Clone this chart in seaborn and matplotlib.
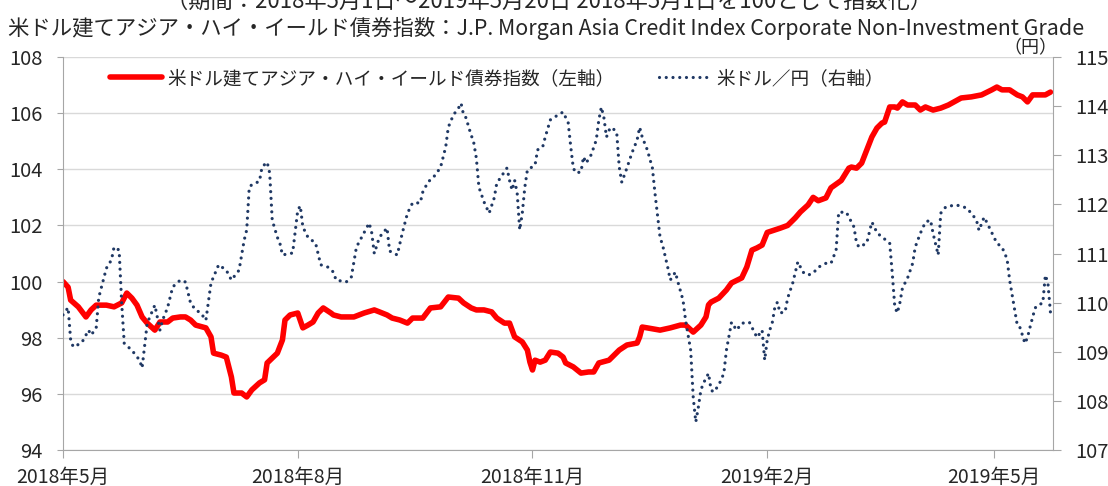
import pandas as pd
import matplotlib.pyplot as plt
import seaborn as sns

# === Data ===
hy_dates = [
    "2018-05-01", "2018-05-03", "2018-05-04", "2018-05-07", "2018-05-10", "2018-05-12", "2018-05-14",
    "2018-05-18", "2018-05-21", "2018-05-24", "2018-05-26", "2018-05-28", "2018-05-30", "2018-06-01",
    "2018-06-03", "2018-06-06", "2018-06-08", "2018-06-11", "2018-06-13", "2018-06-16", "2018-06-18",
    "2018-06-20", "2018-06-22", "2018-06-26", "2018-06-28", "2018-06-29", "2018-07-02", "2018-07-04",
    "2018-07-06", "2018-07-07", "2018-07-10", "2018-07-12", "2018-07-14", "2018-07-17", "2018-07-19",
    "2018-07-20", "2018-07-24", "2018-07-26", "2018-07-27", "2018-07-29", "2018-08-01", "2018-08-03",
    "2018-08-05", "2018-08-07", "2018-08-09", "2018-08-11", "2018-08-14", "2018-08-15", "2018-08-18",
    "2018-08-23", "2018-08-27", "2018-08-31", "2018-09-02", "2018-09-05", "2018-09-07", "2018-09-10",
    "2018-09-13", "2018-09-15", "2018-09-19", "2018-09-22", "2018-09-26", "2018-09-29", "2018-10-03",
    "2018-10-05", "2018-10-08", "2018-10-10", "2018-10-13", "2018-10-16", "2018-10-18", "2018-10-21",
    "2018-10-23", "2018-10-25", "2018-10-28", "2018-10-30", "2018-10-31", "2018-11-01", "2018-11-02",
    "2018-11-04", "2018-11-06", "2018-11-08", "2018-11-11", "2018-11-13", "2018-11-14", "2018-11-17",
    "2018-11-20", "2018-11-23", "2018-11-25", "2018-11-27", "2018-12-01", "2018-12-05", "2018-12-08",
    "2018-12-12", "2018-12-13", "2018-12-14", "2018-12-16", "2018-12-21", "2018-12-25", "2018-12-29",
    "2018-12-31", "2019-01-03", "2019-01-06", "2019-01-08", "2019-01-09", "2019-01-10", "2019-01-13",
    "2019-01-16", "2019-01-18", "2019-01-22", "2019-01-24", "2019-01-26", "2019-01-28", "2019-01-30",
    "2019-02-01", "2019-02-04", "2019-02-06", "2019-02-09", "2019-02-12", "2019-02-14", "2019-02-17",
    "2019-02-19", "2019-02-21", "2019-02-24", "2019-02-26", "2019-03-02", "2019-03-05", "2019-03-06",
    "2019-03-08", "2019-03-10", "2019-03-12", "2019-03-14", "2019-03-16", "2019-03-18", "2019-03-19",
    "2019-03-21", "2019-03-23", "2019-03-24", "2019-03-26", "2019-03-28", "2019-03-31", "2019-04-02",
    "2019-04-04", "2019-04-07", "2019-04-10", "2019-04-13", "2019-04-18", "2019-04-22", "2019-04-26",
    "2019-04-30", "2019-05-02", "2019-05-04", "2019-05-07", "2019-05-10", "2019-05-12", "2019-05-14",
    "2019-05-16", "2019-05-18", "2019-05-21", "2019-05-23",
]
hy_index = [
    100.0, 99.8, 99.34, 99.1, 98.74, 98.99, 99.16,
    99.16, 99.1, 99.24, 99.59, 99.41, 99.16, 98.74,
    98.52, 98.27, 98.56, 98.56, 98.7, 98.74, 98.74,
    98.63, 98.45, 98.35, 98.03, 97.45, 97.38, 97.31,
    96.6, 96.03, 96.03, 95.89, 96.14, 96.39, 96.5,
    97.1, 97.45, 97.92, 98.63, 98.81, 98.88, 98.35,
    98.45, 98.56, 98.88, 99.06, 98.88, 98.81, 98.74,
    98.74, 98.88, 98.99, 98.92, 98.81, 98.7, 98.63,
    98.52, 98.7, 98.7, 99.06, 99.1, 99.45, 99.41,
    99.24, 99.06, 98.99, 98.99, 98.92, 98.7, 98.52,
    98.52, 98.03, 97.85, 97.56, 97.13, 96.85, 97.2,
    97.13, 97.2, 97.49, 97.45, 97.31, 97.1, 96.96,
    96.74, 96.78, 96.78, 97.1, 97.2, 97.56, 97.74,
    97.81, 98.03, 98.38, 98.35, 98.27, 98.35, 98.45,
    98.45, 98.2, 98.45, 98.74, 99.17, 99.27, 99.41,
    99.7, 99.95, 100.13, 100.52, 101.12, 101.2, 101.3,
    101.75, 101.84, 101.9, 102.0, 102.27, 102.48, 102.73,
    103.0, 102.88, 102.98, 103.34, 103.6, 104.04, 104.08,
    104.04, 104.22, 104.69, 105.15, 105.47, 105.65, 105.68,
    106.22, 106.22, 106.18, 106.4, 106.29, 106.29, 106.11,
    106.22, 106.11, 106.18, 106.29, 106.54, 106.58, 106.65,
    106.83, 106.93, 106.83, 106.83, 106.65, 106.58, 106.4,
    106.65, 106.65, 106.65, 106.75,
]

yen_dates = [
    "2018-05-01", "2018-05-03", "2018-05-04", "2018-05-05", "2018-05-08", "2018-05-09", "2018-05-11",
    "2018-05-12", "2018-05-14", "2018-05-15", "2018-05-18", "2018-05-20", "2018-05-21", "2018-05-23",
    "2018-05-24", "2018-05-25", "2018-05-28", "2018-05-31", "2018-06-01", "2018-06-03", "2018-06-06",
    "2018-06-08", "2018-06-09", "2018-06-11", "2018-06-13", "2018-06-16", "2018-06-18", "2018-06-20",
    "2018-06-22", "2018-06-24", "2018-06-26", "2018-06-28", "2018-07-01", "2018-07-04", "2018-07-06",
    "2018-07-09", "2018-07-11", "2018-07-12", "2018-07-13", "2018-07-14", "2018-07-17", "2018-07-18",
    "2018-07-20", "2018-07-21", "2018-07-22", "2018-07-24", "2018-07-25", "2018-07-26", "2018-07-30",
    "2018-08-01", "2018-08-02", "2018-08-03", "2018-08-05", "2018-08-08", "2018-08-10", "2018-08-13",
    "2018-08-15", "2018-08-16", "2018-08-20", "2018-08-22", "2018-08-24", "2018-08-29", "2018-08-30",
    "2018-08-31", "2018-09-02", "2018-09-05", "2018-09-06", "2018-09-09", "2018-09-11", "2018-09-13",
    "2018-09-15", "2018-09-18", "2018-09-19", "2018-09-21", "2018-09-24", "2018-09-26", "2018-09-28",
    "2018-09-29", "2018-10-01", "2018-10-03", "2018-10-04", "2018-10-05", "2018-10-06", "2018-10-07",
    "2018-10-09", "2018-10-10", "2018-10-11", "2018-10-13", "2018-10-15", "2018-10-17", "2018-10-18",
    "2018-10-22", "2018-10-23", "2018-10-24", "2018-10-25", "2018-10-26", "2018-10-27", "2018-10-28",
    "2018-10-29", "2018-10-30", "2018-11-02", "2018-11-03", "2018-11-05", "2018-11-06", "2018-11-08",
    "2018-11-11", "2018-11-13", "2018-11-15", "2018-11-16", "2018-11-17", "2018-11-18", "2018-11-20",
    "2018-11-21", "2018-11-22", "2018-11-24", "2018-11-26", "2018-11-27", "2018-11-28", "2018-11-29",
    "2018-11-30", "2018-12-01", "2018-12-02", "2018-12-04", "2018-12-05", "2018-12-06", "2018-12-08",
    "2018-12-10", "2018-12-12", "2018-12-13", "2018-12-14", "2018-12-16", "2018-12-18", "2018-12-19",
    "2018-12-21", "2018-12-22", "2018-12-24", "2018-12-25", "2018-12-27", "2018-12-28", "2018-12-30",
    "2018-12-31", "2019-01-02", "2019-01-03", "2019-01-04", "2019-01-05", "2019-01-06", "2019-01-07",
    "2019-01-09", "2019-01-10", "2019-01-11", "2019-01-13", "2019-01-15", "2019-01-16", "2019-01-18",
    "2019-01-20", "2019-01-22", "2019-01-25", "2019-01-28", "2019-01-30", "2019-01-31", "2019-02-01",
    "2019-02-02", "2019-02-03", "2019-02-04", "2019-02-05", "2019-02-06", "2019-02-08", "2019-02-09",
    "2019-02-11", "2019-02-13", "2019-02-15", "2019-02-17", "2019-02-19", "2019-02-21", "2019-02-24",
    "2019-02-26", "2019-02-28", "2019-03-01", "2019-03-04", "2019-03-05", "2019-03-07", "2019-03-08",
    "2019-03-09", "2019-03-12", "2019-03-14", "2019-03-15", "2019-03-16", "2019-03-21", "2019-03-22",
    "2019-03-23", "2019-03-24", "2019-03-25", "2019-03-26", "2019-03-28", "2019-03-30", "2019-03-31",
    "2019-04-02", "2019-04-04", "2019-04-06", "2019-04-07", "2019-04-09", "2019-04-10", "2019-04-12",
    "2019-04-16", "2019-04-20", "2019-04-22", "2019-04-24", "2019-04-25", "2019-04-27", "2019-04-28",
    "2019-05-02", "2019-05-04", "2019-05-06", "2019-05-07", "2019-05-08", "2019-05-09", "2019-05-10",
    "2019-05-11", "2019-05-12", "2019-05-13", "2019-05-14", "2019-05-15", "2019-05-16", "2019-05-17",
    "2019-05-18", "2019-05-20", "2019-05-21", "2019-05-22", "2019-05-23",
]
usd_jpy = [
    109.75, 109.9, 109.24, 109.1, 109.17, 109.24, 109.44,
    109.34, 109.48, 110.1, 110.7, 110.87, 111.13, 111.07,
    109.99, 109.17, 109.03, 108.83, 108.67, 109.58, 109.95,
    109.44, 109.64, 109.9, 110.32, 110.46, 110.42, 109.99,
    109.85, 109.79, 109.64, 110.4, 110.77, 110.66, 110.46,
    110.66, 111.27, 111.48, 112.35, 112.4, 112.47, 112.76,
    112.86, 112.64, 111.68, 111.33, 111.21, 110.97, 111.01,
    111.88, 111.97, 111.54, 111.33, 111.21, 110.77, 110.72,
    110.62, 110.46, 110.42, 110.52, 111.13, 111.62, 111.42,
    111.0, 111.33, 111.52, 111.05, 110.97, 111.42, 111.82,
    112.03, 112.03, 112.25, 112.45, 112.6, 112.76, 113.17,
    113.57, 113.82, 113.96, 114.06, 113.82, 113.76, 113.57,
    113.25, 112.94, 112.35, 112.05, 111.82, 112.13, 112.43,
    112.74, 112.49, 112.29, 112.49, 112.23, 111.48, 111.82,
    112.35, 112.7, 112.8, 113.11, 113.17, 113.37, 113.72,
    113.82, 113.88, 113.66, 113.17, 112.74, 112.64, 112.66,
    112.97, 112.84, 113.01, 113.31, 113.72, 113.98, 113.76,
    113.37, 113.51, 113.57, 113.47, 112.76, 112.45, 112.74,
    113.05, 113.31, 113.57, 113.37, 113.11, 112.74, 112.23,
    111.33, 111.17, 110.72, 110.46, 110.62, 110.42, 110.05,
    109.64, 109.03, 108.07, 107.57, 107.87, 108.22, 108.36,
    108.56, 108.22, 108.18, 108.32, 108.56, 109.03, 109.6,
    109.44, 109.58, 109.6, 109.29, 109.44, 108.83, 109.24,
    109.44, 109.6, 109.91, 110.01, 109.79, 109.81, 110.09,
    110.4, 110.83, 110.62, 110.56, 110.6, 110.72, 110.8,
    110.8, 111.07, 111.84, 111.84, 111.74, 111.54, 111.21,
    111.13, 111.21, 111.64, 111.54, 111.42, 111.21, 110.6,
    109.91, 109.79, 110.0, 110.3, 110.5, 110.8, 111.13,
    111.41, 111.64, 111.68, 111.41, 110.97, 111.82, 111.95,
    111.99, 111.93, 111.82, 111.68, 111.47, 111.74, 111.64,
    111.21, 111.13, 110.89, 110.46, 110.15, 109.85, 109.54,
    109.5, 109.34, 109.17, 109.29, 109.5, 109.7, 109.89,
    109.95, 109.99, 110.56, 110.4, 109.8,
]

month_ticks = ["2018-05-01", "2018-08-01", "2018-11-01", "2019-02-01", "2019-05-01"]
month_labels = ["2018年5月", "2018年8月", "2018年11月", "2019年2月", "2019年5月"]

hy_label = "米ドル建てアジア・ハイ・イールド債券指数（左軸）"
yen_label = "米ドル／円（右軸）"
title_top = "（期間：2018年5月1日～2019年5月20日 2018年5月1日を100として指数化）"
title_main = "米ドル建てアジア・ハイ・イールド債券指数：J.P. Morgan Asia Credit Index Corporate Non-Investment Grade"

# === Style ===
sns.set_style("white")
plt.rcParams['font.family'] = ['Noto Sans CJK JP', 'DejaVu Sans']
axis_grey = '#A6A6A6'

fig = plt.figure(figsize=(11.08, 4.86), dpi=100)
ax = fig.add_axes([63 / 1108, 36 / 486, 990 / 1108, 393 / 486])
ax2 = ax.twinx()

sns.lineplot(x=pd.to_datetime(hy_dates), y=hy_index, ax=ax, color='#FF0000',
             linewidth=4, label=hy_label, legend=False)
sns.lineplot(x=pd.to_datetime(yen_dates), y=usd_jpy, ax=ax2, color='#1F3864',
             linewidth=2.3, linestyle=(0, (0.01, 2.1)), dash_capstyle='round',
             label=yen_label, legend=False)

# axes ranges and ticks
ax.set_xlim(pd.Timestamp("2018-05-01"), pd.Timestamp("2019-05-24"))
ax.set_ylim(94, 108)
ax.set_yticks(range(94, 109, 2))
ax2.set_ylim(107, 115)
ax2.set_yticks(range(107, 116))
ax.set_xticks(pd.to_datetime(month_ticks))
ax.set_xticklabels(month_labels)
ax.set_xlabel("")
ax.set_ylabel("")
ax2.set_ylabel("")

ax.yaxis.grid(True, color='#D9D9D9', linewidth=1)
ax.xaxis.grid(False)
ax2.grid(False)

for a in (ax, ax2):
    a.spines['top'].set_visible(False)
    for s in ('left', 'right', 'bottom'):
        a.spines[s].set_color(axis_grey)
ax2.spines['left'].set_visible(False)
ax2.spines['bottom'].set_visible(False)
ax.spines['right'].set_visible(False)

ax.tick_params(axis='y', left=True, direction='out', length=4, color=axis_grey,
               labelsize=14.5, pad=11)
ax.tick_params(axis='x', bottom=True, direction='out', length=6, color=axis_grey,
               labelsize=14, pad=6)
ax2.tick_params(axis='y', right=True, direction='out', length=6, color=axis_grey,
                labelsize=14.5, pad=10)

# legend combining both axes
if ax.get_legend() is not None:
    ax.get_legend().remove()
h1, l1 = ax.get_legend_handles_labels()
h2, l2 = ax2.get_legend_handles_labels()
ax2.legend(h1 + h2, l1 + l2, loc='center left', bbox_to_anchor=(0.047, 0.944),
           ncol=2, frameon=False, fontsize=13.4, handlelength=2.8,
           handletextpad=0.3, columnspacing=2.4, borderaxespad=0, borderpad=0)

# titles (the first line is clipped at the top edge, as in the source image)
fig.text(549 / 1108, 1 - 8 / 486, title_top, ha='center', va='baseline', fontsize=16)
fig.text(8 / 1108, 1 - 35 / 486, title_main, ha='left', va='baseline', fontsize=15.4)
fig.text(1030 / 1108, 1 - 48.5 / 486, "（円）", ha='center', va='center', fontsize=13)

fig.savefig("out.png", dpi=100)
